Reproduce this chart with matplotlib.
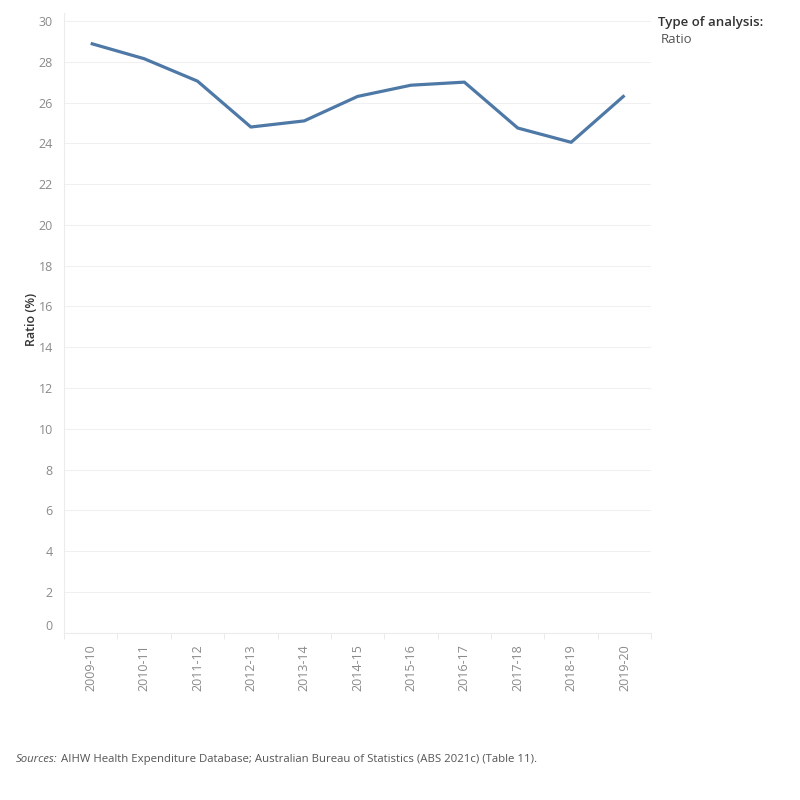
import numpy as np
import matplotlib.pyplot as plt
import matplotlib.transforms as mtransforms

# Data
years = ['2009-10', '2010-11', '2011-12', '2012-13', '2013-14', '2014-15',
         '2015-16', '2016-17', '2017-18', '2018-19', '2019-20']
ratio = [28.9, 28.15, 27.05, 24.8, 25.1, 26.3, 26.85, 27.0, 24.75, 24.05, 26.35]
y_ticks = list(range(0, 31, 2))

plt.rcParams['font.family'] = ['Open Sans', 'DejaVu Sans']

fig = plt.figure(figsize=(8, 8), dpi=100)
ax = fig.add_axes([0.08, 0.209, 0.734, 0.775])

x = np.arange(len(years))
ax.plot(x, ratio, color='#4e79a7', linewidth=2.3, solid_capstyle='butt')

ax.set_xlim(-0.5, len(years) - 0.5)
ax.set_ylim(0, 30.4)
ax.set_yticks(y_ticks)
ax.set_yticklabels([str(v) for v in y_ticks], color='#8a8a8a', fontsize=9)
ax.tick_params(axis='y', length=0, pad=8)
# the zero label sits a little above the axis line, as in the original
lab0 = ax.get_yticklabels()[0]
lab0.set_transform(lab0.get_transform() + mtransforms.ScaledTranslation(0, 8 / 100, fig.dpi_scale_trans))

# x labels at category centres, tick marks at band edges
ax.set_xticks(x)
ax.set_xticklabels(years, rotation=90, color='#8a8a8a', fontsize=9)
ax.tick_params(axis='x', length=0, pad=8)
ax.set_xticks(np.arange(-0.5, len(years)), minor=True)
ax.tick_params(axis='x', which='minor', length=4, color='#e6e6e6')

ax.grid(axis='y', color='#f0f0f0', linewidth=0.8)
ax.set_axisbelow(True)
for s in ['top', 'right']:
    ax.spines[s].set_visible(False)
ax.spines['left'].set_color('#ececec')
ax.spines['bottom'].set_color('#ececec')

ax.set_ylabel('Ratio (%)', color='#333333', fontsize=9, fontweight='semibold')
ax.yaxis.set_label_coords(-0.045, 0.505)

fig.text(0.823, 0.968, 'Type of analysis:', fontsize=9.5, color='#333333', fontweight='semibold')
fig.text(0.826, 0.946, 'Ratio', fontsize=9.5, color='#555555')

fig.text(0.02, 0.047, 'Sources:', fontsize=8.2, color='#555555', style='italic')
fig.text(0.076, 0.047, 'AIHW Health Expenditure Database; Australian Bureau of Statistics (ABS 2021c) (Table 11).',
         fontsize=8.2, color='#555555')

fig.savefig('out.png', dpi=100)
